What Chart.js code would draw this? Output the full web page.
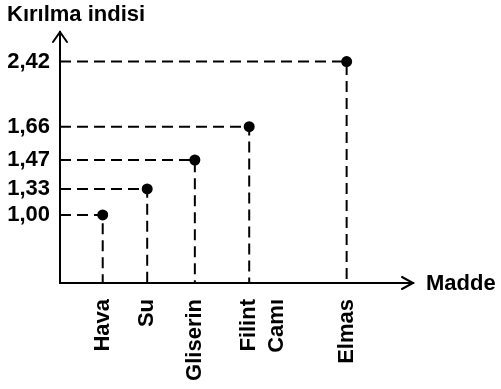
<!DOCTYPE html>
<html lang="tr">
<head>
<meta charset="utf-8">
<title>Kırılma indisi</title>
<script src="https://cdn.jsdelivr.net/npm/chart.js@4.4.1/dist/chart.umd.min.js"></script>
<style>
  html, body { margin: 0; padding: 0; background: #fff; }
  #wrap { width: 501px; height: 389px; position: relative; }
</style>
</head>
<body>
<div id="wrap"><canvas id="chart"></canvas></div>
<script>
// Data
const materials = ['Hava', 'Su', 'Gliserin', 'Filint Camı', 'Elmas'];
const indices = [1.00, 1.33, 1.47, 1.66, 2.42];
const yTicks = [1.00, 1.33, 1.47, 1.66, 2.42];

const X_MIN = -1, X_MAX = 5;
const Y_MIN = 0.6, Y_MAX = 2.6;

// The drawing is schematic: axis positions are not linear in the value.
// Each scale maps a value to a fraction of its length through these stops.
const WARP = {
  x: [[X_MIN, 0], [0, 0.121], [1, 0.247], [2, 0.382], [3, 0.536], [4, 0.812], [X_MAX, 1]],
  y: [[Y_MIN, 0], [1.00, 0.271], [1.33, 0.375], [1.47, 0.490], [1.66, 0.623], [2.42, 0.882], [Y_MAX, 1]]
};

function interp(stops, v, from, to) {
  for (let i = 1; i < stops.length; i++) {
    const a = stops[i - 1], b = stops[i];
    if (v <= b[from] || i === stops.length - 1) {
      const t = (v - a[from]) / (b[from] - a[from]);
      return a[to] + t * (b[to] - a[to]);
    }
  }
  return v;
}

class WarpScale extends Chart.LinearScale {
  getPixelForValue(value) {
    return this.getPixelForDecimal(interp(WARP[this.id], value, 0, 1));
  }
  getValueForPixel(pixel) {
    return interp(WARP[this.id], this.getDecimalForPixel(pixel), 1, 0);
  }
}
WarpScale.id = 'warp';
WarpScale.defaults = Chart.LinearScale.defaults;
Chart.register(WarpScale);

const FONT = "'Liberation Sans', Arial, sans-serif";

// Dashed guide lines: from the y axis to the point, then down to the x axis
const guideSets = indices.map((v, i) => ({
  data: [{ x: X_MIN, y: v }, { x: i, y: v }, { x: i, y: Y_MIN }],
  showLine: true,
  borderColor: '#000',
  borderWidth: 2,
  borderDash: [11, 6],
  pointRadius: 0,
  fill: false
}));

// Arrow heads and the free axis titles
const axisDecor = {
  id: 'axisDecor',
  afterDraw(chart) {
    const { ctx, chartArea: a } = chart;
    ctx.save();
    ctx.strokeStyle = '#000';
    ctx.lineWidth = 2;
    ctx.lineCap = 'round';
    ctx.beginPath();
    ctx.moveTo(a.left - 7, a.top + 10);
    ctx.lineTo(a.left, a.top);
    ctx.lineTo(a.left + 7, a.top + 10);
    ctx.moveTo(a.right - 11, a.bottom - 6);
    ctx.lineTo(a.right, a.bottom);
    ctx.lineTo(a.right - 11, a.bottom + 6);
    ctx.stroke();

    ctx.fillStyle = '#000';
    ctx.font = 'bold 22px ' + FONT;
    ctx.textBaseline = 'middle';
    ctx.textAlign = 'left';
    ctx.fillText('Kırılma indisi', 7, 15);
    ctx.fillText('Madde', a.right + 13, a.bottom + 1);
    ctx.restore();
  }
};

const chart = new Chart(document.getElementById('chart'), {
  type: 'scatter',
  data: {
    datasets: [{
      data: indices.map((v, i) => ({ x: i, y: v })),
      pointRadius: 5.5,
      pointHoverRadius: 5.5,
      pointBackgroundColor: '#000',
      pointBorderWidth: 0
    }].concat(guideSets)
  },
  options: {
    responsive: true,
    maintainAspectRatio: false,
    animation: false,
    layout: { padding: { top: 32, right: 88, left: 0, bottom: 0 } },
    plugins: {
      legend: { display: false },
      tooltip: { enabled: false }
    },
    scales: {
      x: {
        type: 'warp',
        min: X_MIN,
        max: X_MAX,
        grid: { display: false, drawTicks: false },
        border: { display: true, color: '#000', width: 2 },
        afterBuildTicks: (scale) => {
          scale.ticks = materials.map((m, i) => ({ value: i }));
        },
        afterFit: (scale) => { scale.height = 106; },
        ticks: {
          autoSkip: false,
          minRotation: 90,
          maxRotation: 90,
          padding: 16,
          color: '#000',
          font: { family: FONT, size: 22, weight: 'bold', lineHeight: 1.25 },
          callback: (value) => materials[value] ? materials[value].split(' ') : ''
        }
      },
      y: {
        type: 'warp',
        min: Y_MIN,
        max: Y_MAX,
        grid: { display: false, drawTicks: false },
        border: { display: true, color: '#000', width: 2 },
        afterBuildTicks: (scale) => {
          scale.ticks = yTicks.map(v => ({ value: v }));
        },
        afterFit: (scale) => { scale.width = 60; },
        ticks: {
          autoSkip: false,
          padding: 10,
          color: '#000',
          font: { family: FONT, size: 22, weight: 'bold' },
          callback: (value) => value.toFixed(2).replace('.', ',')
        }
      }
    }
  },
  plugins: [axisDecor]
});
</script>
</body>
</html>
